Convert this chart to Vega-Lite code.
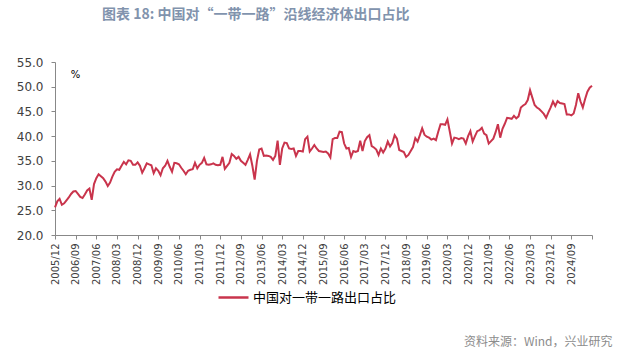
{
  "$schema": "https://vega.github.io/schema/vega-lite/v6.json",
  "autosize": "none",
  "width": 537,
  "height": 173,
  "padding": {"left": 55, "top": 62, "right": 48, "bottom": 119},
  "background": "white",
  "title": {
    "text": "图表 18: 中国对“一带一路”沿线经济体出口占比",
    "anchor": "start",
    "frame": "group",
    "dx": 47,
    "offset": 34,
    "font": "Noto Sans CJK SC",
    "fontSize": 14,
    "fontWeight": "bold",
    "color": "#8193ad"
  },
  "config": {
    "view": {"stroke": null},
    "axis": {"grid": false, "domainColor": "#888888", "tickColor": "#888888", "tickSize": 4}
  },
  "data": {
    "values": [
      {"m":"2005/12","v":25.6},
      {"m":"2006/01","v":26.8},{"m":"2006/02","v":27.3},{"m":"2006/03","v":26.1},{"m":"2006/04","v":26.4},{"m":"2006/05","v":27.0},{"m":"2006/06","v":27.6},{"m":"2006/07","v":28.3},{"m":"2006/08","v":28.8},{"m":"2006/09","v":28.9},{"m":"2006/10","v":28.3},{"m":"2006/11","v":27.7},{"m":"2006/12","v":27.5},
      {"m":"2007/01","v":28.2},{"m":"2007/02","v":29.0},{"m":"2007/03","v":29.4},{"m":"2007/04","v":27.1},{"m":"2007/05","v":30.3},{"m":"2007/06","v":31.5},{"m":"2007/07","v":32.3},{"m":"2007/08","v":31.9},{"m":"2007/09","v":31.5},{"m":"2007/10","v":30.8},{"m":"2007/11","v":29.9},{"m":"2007/12","v":30.6},
      {"m":"2008/01","v":31.8},{"m":"2008/02","v":32.8},{"m":"2008/03","v":33.3},{"m":"2008/04","v":33.2},{"m":"2008/05","v":34.0},{"m":"2008/06","v":34.8},{"m":"2008/07","v":34.3},{"m":"2008/08","v":35.1},{"m":"2008/09","v":35.0},{"m":"2008/10","v":34.2},{"m":"2008/11","v":34.2},{"m":"2008/12","v":34.7},
      {"m":"2009/01","v":34.0},{"m":"2009/02","v":32.6},{"m":"2009/03","v":33.5},{"m":"2009/04","v":34.5},{"m":"2009/05","v":34.3},{"m":"2009/06","v":34.1},{"m":"2009/07","v":32.5},{"m":"2009/08","v":33.5},{"m":"2009/09","v":33.0},{"m":"2009/10","v":32.1},{"m":"2009/11","v":33.5},{"m":"2009/12","v":34.0},
      {"m":"2010/01","v":35.0},{"m":"2010/02","v":33.8},{"m":"2010/03","v":32.8},{"m":"2010/04","v":34.6},{"m":"2010/05","v":34.5},{"m":"2010/06","v":34.3},{"m":"2010/07","v":33.6},{"m":"2010/08","v":33.0},{"m":"2010/09","v":32.3},{"m":"2010/10","v":33.0},{"m":"2010/11","v":33.2},{"m":"2010/12","v":33.3},
      {"m":"2011/01","v":34.6},{"m":"2011/02","v":33.5},{"m":"2011/03","v":34.2},{"m":"2011/04","v":34.6},{"m":"2011/05","v":35.6},{"m":"2011/06","v":34.3},{"m":"2011/07","v":34.2},{"m":"2011/08","v":34.3},{"m":"2011/09","v":34.5},{"m":"2011/10","v":34.2},{"m":"2011/11","v":34.1},{"m":"2011/12","v":34.2},
      {"m":"2012/01","v":35.8},{"m":"2012/02","v":33.4},{"m":"2012/03","v":34.0},{"m":"2012/04","v":34.6},{"m":"2012/05","v":36.4},{"m":"2012/06","v":36.0},{"m":"2012/07","v":35.4},{"m":"2012/08","v":35.8},{"m":"2012/09","v":35.0},{"m":"2012/10","v":34.6},{"m":"2012/11","v":34.2},{"m":"2012/12","v":35.2},
      {"m":"2013/01","v":36.3},{"m":"2013/02","v":34.0},{"m":"2013/03","v":31.2},{"m":"2013/04","v":35.0},{"m":"2013/05","v":37.3},{"m":"2013/06","v":37.5},{"m":"2013/07","v":36.0},{"m":"2013/08","v":36.1},{"m":"2013/09","v":36.0},{"m":"2013/10","v":35.8},{"m":"2013/11","v":35.2},{"m":"2013/12","v":36.0},
      {"m":"2014/01","v":39.1},{"m":"2014/02","v":34.2},{"m":"2014/03","v":37.5},{"m":"2014/04","v":38.7},{"m":"2014/05","v":38.6},{"m":"2014/06","v":37.5},{"m":"2014/07","v":37.4},{"m":"2014/08","v":37.5},{"m":"2014/09","v":36.0},{"m":"2014/10","v":37.0},{"m":"2014/11","v":37.0},{"m":"2014/12","v":36.9},
      {"m":"2015/01","v":39.4},{"m":"2015/02","v":39.9},{"m":"2015/03","v":36.9},{"m":"2015/04","v":37.5},{"m":"2015/05","v":38.2},{"m":"2015/06","v":37.5},{"m":"2015/07","v":37.0},{"m":"2015/08","v":36.9},{"m":"2015/09","v":36.8},{"m":"2015/10","v":36.9},{"m":"2015/11","v":36.5},{"m":"2015/12","v":35.7},
      {"m":"2016/01","v":39.4},{"m":"2016/02","v":39.6},{"m":"2016/03","v":39.6},{"m":"2016/04","v":40.9},{"m":"2016/05","v":40.8},{"m":"2016/06","v":38.5},{"m":"2016/07","v":37.5},{"m":"2016/08","v":37.6},{"m":"2016/09","v":35.8},{"m":"2016/10","v":37.0},{"m":"2016/11","v":36.8},{"m":"2016/12","v":37.0},
      {"m":"2017/01","v":39.1},{"m":"2017/02","v":37.0},{"m":"2017/03","v":39.0},{"m":"2017/04","v":39.8},{"m":"2017/05","v":40.2},{"m":"2017/06","v":38.0},{"m":"2017/07","v":37.7},{"m":"2017/08","v":37.3},{"m":"2017/09","v":36.2},{"m":"2017/10","v":37.5},{"m":"2017/11","v":36.7},{"m":"2017/12","v":37.5},
      {"m":"2018/01","v":38.9},{"m":"2018/02","v":37.9},{"m":"2018/03","v":38.6},{"m":"2018/04","v":40.2},{"m":"2018/05","v":39.5},{"m":"2018/06","v":37.2},{"m":"2018/07","v":37.0},{"m":"2018/08","v":36.8},{"m":"2018/09","v":35.8},{"m":"2018/10","v":36.2},{"m":"2018/11","v":37.0},{"m":"2018/12","v":37.8},
      {"m":"2019/01","v":39.6},{"m":"2019/02","v":38.9},{"m":"2019/03","v":40.2},{"m":"2019/04","v":41.6},{"m":"2019/05","v":40.3},{"m":"2019/06","v":39.9},{"m":"2019/07","v":39.7},{"m":"2019/08","v":39.3},{"m":"2019/09","v":39.5},{"m":"2019/10","v":39.2},{"m":"2019/11","v":40.9},{"m":"2019/12","v":42.4},
      {"m":"2020/01","v":42.4},{"m":"2020/02","v":42.3},{"m":"2020/03","v":43.4},{"m":"2020/04","v":41.0},{"m":"2020/05","v":38.5},{"m":"2020/06","v":39.7},{"m":"2020/07","v":39.6},{"m":"2020/08","v":39.4},{"m":"2020/09","v":39.6},{"m":"2020/10","v":39.5},{"m":"2020/11","v":38.5},{"m":"2020/12","v":40.0},
      {"m":"2021/01","v":41.0},{"m":"2021/02","v":38.9},{"m":"2021/03","v":40.0},{"m":"2021/04","v":41.0},{"m":"2021/05","v":41.2},{"m":"2021/06","v":41.7},{"m":"2021/07","v":40.5},{"m":"2021/08","v":40.2},{"m":"2021/09","v":38.5},{"m":"2021/10","v":39.0},{"m":"2021/11","v":39.5},{"m":"2021/12","v":40.8},
      {"m":"2022/01","v":42.4},{"m":"2022/02","v":39.7},{"m":"2022/03","v":41.5},{"m":"2022/04","v":42.5},{"m":"2022/05","v":43.7},{"m":"2022/06","v":43.6},{"m":"2022/07","v":43.5},{"m":"2022/08","v":44.1},{"m":"2022/09","v":43.6},{"m":"2022/10","v":44.0},{"m":"2022/11","v":45.8},{"m":"2022/12","v":46.2},
      {"m":"2023/01","v":46.5},{"m":"2023/02","v":47.3},{"m":"2023/03","v":49.3},{"m":"2023/04","v":47.8},{"m":"2023/05","v":46.3},{"m":"2023/06","v":45.8},{"m":"2023/07","v":45.5},{"m":"2023/08","v":45.0},{"m":"2023/09","v":44.5},{"m":"2023/10","v":43.7},{"m":"2023/11","v":44.8},{"m":"2023/12","v":45.8},
      {"m":"2024/01","v":47.0},{"m":"2024/02","v":46.1},{"m":"2024/03","v":47.1},{"m":"2024/04","v":46.7},{"m":"2024/05","v":46.6},{"m":"2024/06","v":46.5},{"m":"2024/07","v":44.4},{"m":"2024/08","v":44.4},{"m":"2024/09","v":44.2},{"m":"2024/10","v":44.6},{"m":"2024/11","v":46.3},{"m":"2024/12","v":48.7},
      {"m":"2025/01","v":47.0},{"m":"2025/02","v":45.8},{"m":"2025/03","v":47.5},{"m":"2025/04","v":49.0},{"m":"2025/05","v":49.8},{"m":"2025/06","v":50.2}
    ]
  },
  "transform": [{"calculate": "'中国对一带一路出口占比'", "as": "series"}],
  "mark": {"type": "line", "strokeWidth": 2, "interpolate": "linear"},
  "encoding": {
    "x": {
      "field": "m",
      "type": "ordinal",
      "scale": {"type": "point", "padding": 0},
      "axis": {
        "title": "资料来源：Wind，兴业研究",
        "titleFont": "Noto Sans CJK SC",
        "titleFontSize": 12,
        "titleFontWeight": "normal",
        "titleColor": "#8c8c8c",
        "titleAnchor": null,
        "titleAlign": "right",
        "titleBaseline": "middle",
        "titleX": 557,
        "titleY": 106,
        "values": ["2005/12","2006/09","2007/06","2008/03","2008/12","2009/09","2010/06","2011/03","2011/12","2012/09","2013/06","2014/03","2014/12","2015/09","2016/06","2017/03","2017/12","2018/09","2019/06","2020/03","2020/12","2021/09","2022/06","2023/03","2023/12","2024/09","2025/06"],
        "labelExpr": "datum.value == '2025/06' ? '' : datum.label",
        "labelAngle": -90,
        "labelFont": "DejaVu Sans",
        "labelFontSize": 10,
        "labelColor": "#404040",
        "labelPadding": 4,
        "labelOverlap": false
      }
    },
    "y": {
      "field": "v",
      "type": "quantitative",
      "scale": {"domain": [20, 55], "nice": false, "zero": false},
      "axis": {
        "values": [20, 25, 30, 35, 40, 45, 50, 55],
        "format": ".1f",
        "title": "%",
        "titleAngle": 0,
        "titleAlign": "center",
        "titleBaseline": "middle",
        "titleX": 20,
        "titleY": 12,
        "titleFont": "DejaVu Sans",
        "titleFontSize": 10,
        "titleFontWeight": "normal",
        "titleColor": "#000000",
        "labelFont": "DejaVu Sans",
        "labelFontSize": 12,
        "labelColor": "#404040",
        "labelPadding": 8
      }
    },
    "color": {
      "field": "series",
      "type": "nominal",
      "scale": {"range": ["#c9344c"]},
      "legend": {
        "title": null,
        "orient": "none",
        "legendX": 162,
        "legendY": 219,
        "symbolType": "stroke",
        "symbolSize": 900,
        "symbolStrokeWidth": 2.5,
        "labelFont": "Noto Sans CJK SC",
        "labelFontSize": 13,
        "labelColor": "#000000",
        "labelOffset": 3
      }
    }
  }
}
